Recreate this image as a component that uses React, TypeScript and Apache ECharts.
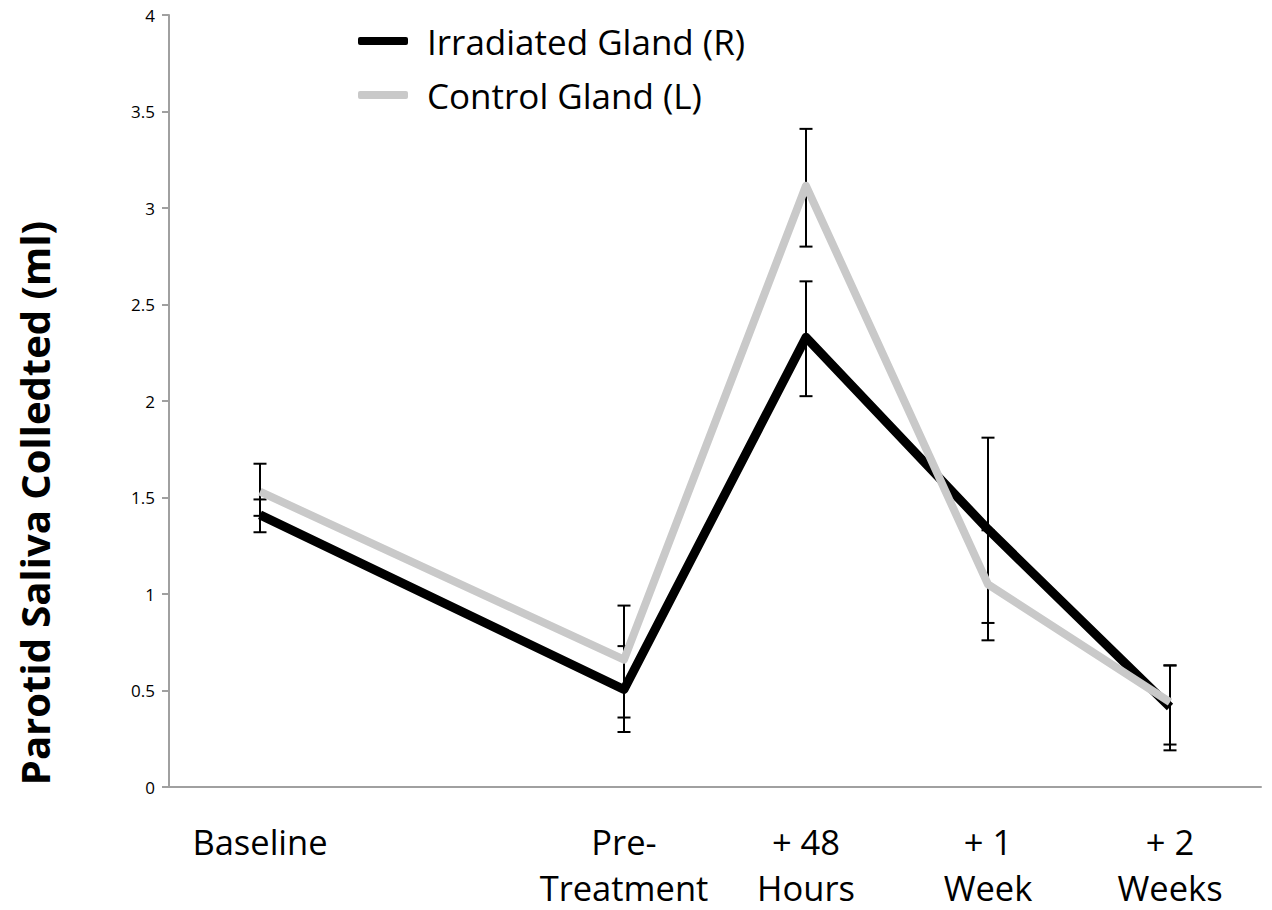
import React, { useEffect, useRef } from "react";
import * as echarts from "echarts";

const categories = ["Baseline", "", "Pre-\nTreatment", "+ 48\nHours", "+ 1\nWeek", "+ 2\nWeeks"];
const irradiated = [1.41, null, 0.505, 2.33, 1.335, 0.415];
const control = [1.53, null, 0.66, 3.115, 1.05, 0.44];
const irradiatedLow = [1.32, null, 0.285, 2.025, 0.85, 0.19];
const irradiatedHigh = [1.49, null, 0.73, 2.62, 1.81, 0.63];
const controlLow = [1.405, null, 0.36, 2.8, 0.76, 0.22];
const controlHigh = [1.675, null, 0.94, 3.41, 1.33, 0.63];
const yTitle = "Parotid Saliva Colledted (ml)";

const FONT = "Open Sans";

function errData(low: (number | null)[], high: (number | null)[]) {
  const out: number[][] = [];
  low.forEach((l, i) => {
    const h = high[i];
    if (l != null && h != null) out.push([i, l, h]);
  });
  return out;
}

function renderError(params: any, api: any) {
  const x = api.value(0);
  const lo = api.coord([x, api.value(1)]);
  const hi = api.coord([x, api.value(2)]);
  const half = 6.5;
  const style = { stroke: "#000", lineWidth: 2 };
  return {
    type: "group",
    children: [
      { type: "line", shape: { x1: lo[0], y1: lo[1], x2: hi[0], y2: hi[1] }, style },
      { type: "line", shape: { x1: lo[0] - half, y1: lo[1], x2: lo[0] + half, y2: lo[1] }, style },
      { type: "line", shape: { x1: hi[0] - half, y1: hi[1], x2: hi[0] + half, y2: hi[1] }, style },
    ],
  };
}

export default function App() {
  const ref = useRef<HTMLDivElement>(null);
  useEffect(() => {
    document.body.style.margin = "0";
    const chart = echarts.init(ref.current!, undefined, { renderer: "svg" });
    chart.setOption({
      animation: false,
      backgroundColor: "#ffffff",
      textStyle: { fontFamily: FONT },
      grid: { left: 169, top: 15, width: 1092, bottom: 119.5, containLabel: false },
      graphic: [
        {
          type: "text",
          x: 34,
          y: 503,
          rotation: Math.PI / 2,
          style: {
            text: yTitle,
            fontSize: 40,
            fontWeight: "bold",
            fontFamily: FONT,
            fill: "#000",
            align: "center",
            verticalAlign: "middle",
          },
        },
      ],
      legend: {
        orient: "vertical",
        left: 353,
        top: 15,
        itemWidth: 50,
        itemHeight: 8,
        itemGap: 12,
        icon: "roundRect",
        data: ["Irradiated Gland (R)", "Control Gland (L)"],
        textStyle: { fontSize: 35, fontFamily: FONT, color: "#000", lineHeight: 42, padding: [0, 0, 0, 14] },
      },
      xAxis: {
        type: "category",
        data: categories,
        boundaryGap: true,
        axisLine: { lineStyle: { color: "#a0a0a0", width: 2 } },
        axisTick: { alignWithLabel: true, length: 7, lineStyle: { color: "#a0a0a0", width: 2 } },
        axisLabel: { interval: 0, fontSize: 34.5, lineHeight: 46, color: "#000", margin: 31, fontFamily: FONT },
        splitLine: { show: false },
      },
      yAxis: {
        type: "value",
        min: 0,
        max: 4,
        interval: 0.5,
        axisLine: { show: true, lineStyle: { color: "#a0a0a0", width: 2 } },
        axisTick: { show: true, length: 7, lineStyle: { color: "#a0a0a0", width: 2 } },
        axisLabel: { fontSize: 17, color: "#000", margin: 14, fontFamily: FONT },
        splitLine: { show: false },
      },
      series: [
        {
          name: "errIrr",
          type: "custom",
          renderItem: renderError,
          data: errData(irradiatedLow, irradiatedHigh),
          z: 1,
          silent: true,
        },
        {
          name: "errCtl",
          type: "custom",
          renderItem: renderError,
          data: errData(controlLow, controlHigh),
          z: 1,
          silent: true,
        },
        {
          name: "Irradiated Gland (R)",
          type: "line",
          data: irradiated,
          connectNulls: true,
          symbol: "none",
          color: "#000000",
          lineStyle: { color: "#000000", width: 9, join: "round" },
          z: 2,
        },
        {
          name: "Control Gland (L)",
          type: "line",
          data: control,
          connectNulls: true,
          symbol: "none",
          color: "#c9c9c9",
          lineStyle: { color: "#c9c9c9", width: 8, join: "round" },
          z: 3,
        },
      ],
    });
    return () => chart.dispose();
  }, []);
  return <div ref={ref} style={{ width: 1272, height: 910 }} />;
}
